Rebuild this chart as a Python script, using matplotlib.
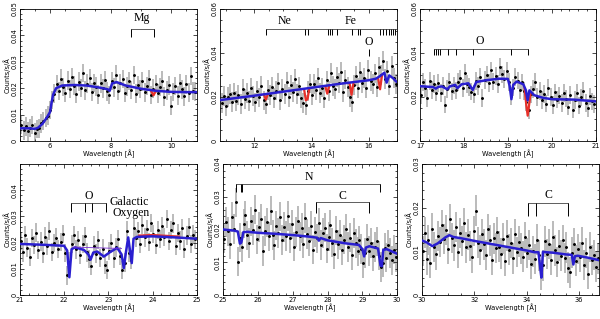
import numpy as np
import matplotlib
matplotlib.use("Agg")
import matplotlib.pyplot as plt
from matplotlib.ticker import MultipleLocator

# ---------------- data (counts in units of 1e-3 counts/s/A) ----------------
# panel 1 : 5 - 10.8 A
lam1 = np.linspace(5.05, 10.80, 80)
flux1 = [6.1, 4.0, 5.5, 3.6, 4.9, 6.0, 3.2, 4.5,
         4.8, 6.7, 7.5, 8.8, 9.6, 11.8, 15.5, 17.9,
         21.5, 19.0, 23.6, 20.4, 18.2,
         22.9, 19.6, 24.1, 21.0, 17.8, 22.5, 20.1,
         25.8, 19.2, 21.7, 23.9, 18.5, 22.0, 20.6,
         17.6, 21.8, 19.9, 23.0, 18.8, 17.4,
         22.7, 20.3, 25.1, 19.0, 21.9, 23.4,
         18.2, 20.7, 22.8, 19.3, 24.9, 17.9, 21.2,
         19.7, 22.6, 18.4, 20.9, 23.3, 17.5, 19.8,
         21.6, 18.0, 20.5, 22.9, 16.8, 19.2, 21.1,
         13.4, 18.6, 20.8, 17.2, 22.0, 19.5,
         16.9, 21.4, 18.3, 24.6, 19.0, 18.7]
model1_x = [5.0, 5.3, 5.5, 5.6, 5.75, 5.9, 6.0, 6.05, 6.1, 6.2, 6.4, 6.8, 7.2,
            7.6, 7.9, 7.97, 8.05, 8.2, 8.5, 9.0, 9.5, 10.0, 10.5, 10.85]
model1_y = [4.8, 4.8, 4.6, 5.0, 6.5, 9.0, 11.0, 14.5, 17.5, 20.0, 21.0, 21.2, 21.0,
            20.3, 19.6, 19.0, 21.8, 22.3, 21.0, 19.8, 19.0, 18.6, 18.5, 18.5]
red1_x = [9.33, 9.42, 9.50]
red1_y = [19.1, 17.3, 19.0]

# panel 2 : 10.8 - 17 A
lam2 = np.linspace(10.85, 16.95, 84)
flux2 = [17.2, 20.5, 15.8, 19.9, 21.4, 17.6, 22.0, 18.3,
         20.9, 16.9, 23.5, 19.2, 21.7, 18.0, 24.2, 20.3,
         17.5, 22.6, 19.8, 25.1, 18.4, 16.7, 23.3, 21.0,
         24.7, 19.5, 22.9, 26.3, 18.8, 23.6, 21.2, 27.0,
         20.1, 25.4, 22.3, 28.2, 21.5, 24.8, 19.6, 17.4,
         16.3, 22.8, 26.1, 20.7, 25.9, 23.0, 28.7, 21.9,
         24.3, 19.4, 27.5, 22.6, 30.8, 25.0, 23.7, 28.9,
         26.2, 31.5, 22.4, 27.9, 24.6, 19.8, 17.7, 25.3,
         29.6, 24.0, 31.2, 26.5, 28.8, 23.9, 32.4, 27.1,
         25.8, 30.7, 24.4, 33.6, 29.9, 36.2, 28.0, 31.8,
         25.2, 34.1, 28.6, 26.0]
model2_x = [10.8, 12.0, 13.0, 14.0, 15.0, 16.0, 16.25, 16.4, 16.55, 16.63,
            16.72, 16.85, 16.95, 17.0]
model2_y = [18.6, 20.6, 22.4, 24.2, 26.0, 27.6, 28.3, 29.5, 31.0, 26.5,
            29.8, 28.6, 27.2, 26.8]
red2 = [([12.33, 12.40, 12.47], [21.1, 18.8, 21.3]),
        ([13.74, 13.80, 13.86, 13.92], [23.4, 18.5, 19.0, 23.7]),
        ([14.48, 14.55, 14.62], [24.8, 21.5, 25.0]),
        ([15.33, 15.40, 15.47], [26.3, 21.0, 26.5]),
        ([16.33, 16.40, 16.47], [28.6, 23.5, 30.0])]

# panel 3 : 17 - 21 A
lam3 = np.linspace(17.02, 20.97, 80)
flux3 = [21.0, 26.7, 24.2, 19.5, 27.3, 23.1, 25.9, 22.0,
         26.4, 21.8, 24.9, 16.5, 23.7, 27.0, 22.5, 25.3,
         23.0, 26.9, 28.4, 24.1, 31.0, 26.0, 24.6, 22.4,
         21.3, 27.2, 25.0, 29.3, 19.4, 27.8, 30.2, 26.4,
         32.1, 27.0, 29.5, 25.8, 33.5, 30.3, 28.1, 31.7,
         26.8, 20.5, 24.3, 29.0, 27.4, 23.0, 26.6, 22.8,
         17.5, 14.0, 21.2, 23.6, 26.8, 20.0, 22.7, 18.6,
         21.4, 17.0, 24.3, 19.9, 16.4, 22.1, 18.8, 20.6,
         17.2, 21.9, 19.3, 15.6, 20.8, 14.3, 18.5, 21.7,
         16.1, 19.8, 22.6, 17.4, 15.0, 20.3, 18.0, 16.8]
model3_x = [17.0, 17.3, 17.36, 17.42, 17.5, 17.62, 17.68, 17.8, 17.85, 17.95,
            18.1, 18.2, 18.28, 18.5, 18.8, 19.0, 19.04, 19.08, 19.12, 19.2,
            19.35, 19.41, 19.45, 19.49, 19.6, 19.8, 20.0, 20.5, 21.0]
model3_y = [24.9, 24.5, 23.8, 24.6, 24.8, 23.5, 24.8, 25.5, 24.0, 25.8,
            26.2, 23.2, 26.8, 27.6, 28.3, 28.2, 25.0, 19.0, 25.5, 27.0,
            25.8, 23.0, 18.5, 23.0, 20.8, 19.6, 19.0, 18.8, 18.0]
red3 = [([19.38, 19.42, 19.45, 19.48, 19.52], [24.0, 16.0, 11.5, 16.0, 22.0])]

# panel 4 : 21 - 25 A
lam4 = np.linspace(21.02, 24.97, 80)
flux4 = [20.6, 16.3, 22.9, 18.1, 14.5, 21.7, 19.0, 23.8,
         17.2, 20.4, 15.9, 22.3, 18.7, 24.5, 16.4, 19.8,
         21.9, 17.5, 20.3, 23.2, 16.0, 7.5, 12.8, 19.6,
         22.8, 17.4, 20.9, 15.2, 19.5, 22.4, 16.3, 13.7,
         11.0, 18.9, 15.8, 21.0, 14.1, 17.7, 11.4, 9.6,
         16.8, 19.7, 14.0, 18.2, 21.2, 15.0, 9.5, 12.4,
         24.6, 16.1, 13.5, 25.7, 21.8, 24.4, 19.6, 26.8,
         22.0, 25.1, 20.3, 27.5, 23.4, 19.2, 24.7, 21.5,
         26.3, 22.2, 29.0, 20.5, 24.9, 27.3, 18.9, 23.6,
         20.8, 25.4, 17.6, 22.7, 26.0, 19.4, 23.1, 21.2]
model4_x = [21.0, 21.5, 22.0, 22.07, 22.12, 22.17, 22.25, 22.45, 22.55, 22.6,
            22.66, 22.75, 22.9, 23.05, 23.2, 23.3, 23.35, 23.4, 23.45, 23.49,
            23.53, 23.57, 23.65, 24.0, 24.5, 25.0]
model4_y = [19.5, 19.2, 18.8, 17.0, 6.8, 17.5, 18.2, 17.2, 15.5, 13.5,
            16.2, 16.6, 14.7, 16.5, 18.0, 15.5, 10.3, 16.5, 22.0, 17.0,
            12.2, 21.5, 22.2, 22.4, 22.0, 21.5]
thin4_x = [22.2, 22.6, 23.0, 23.3]
thin4_y = [18.3, 18.1, 17.9, 17.8]
red4 = [([23.7, 24.0, 24.3, 24.6], [22.7, 22.9, 22.6, 22.3])]

# panel 5 : 25 - 30 A
lam5 = np.linspace(25.03, 29.97, 90)
flux5 = [17.2, 22.3, 19.4, 15.6, 23.8, 20.1, 28.3, 10.2, 17.5, 14.6,
         21.8, 24.3, 18.2, 15.9, 22.5, 19.9, 26.1, 17.0, 20.8, 23.2,
         13.5, 19.6, 22.2, 17.9, 25.8, 18.3, 15.2, 21.2, 19.0, 23.9,
         16.8, 20.7, 18.0, 24.1, 17.4, 21.6, 14.8, 19.3, 22.6, 17.9,
         20.4, 15.7, 23.5, 18.6, 16.4, 21.0, 13.9, 19.2, 17.3, 22.0,
         15.3, 18.9, 20.6, 14.2, 17.8, 21.5, 16.0, 12.5, 19.7, 15.5,
         18.4, 13.6, 16.9, 20.3, 14.6, 17.5, 12.2, 19.0, 15.8, 13.3,
         16.7, 14.0, 9.8, 12.9, 17.2, 13.5, 15.9, 11.8, 14.7, 16.4,
         12.0, 8.5, 9.9, 14.5, 11.4, 15.3, 12.8, 10.6, 13.9, 11.5]
model5_x = [25.0, 25.3, 25.42, 25.48, 25.52, 25.58, 25.7, 26.0, 26.5, 27.0,
            27.5, 27.7, 27.75, 27.8, 28.0, 28.5, 28.9, 29.0, 29.05, 29.1,
            29.2, 29.45, 29.52, 29.56, 29.6, 29.7, 30.0]
model5_y = [20.0, 19.7, 19.4, 15.7, 16.0, 19.2, 19.3, 19.0, 18.7, 18.3,
            17.8, 17.5, 16.6, 17.4, 16.7, 15.8, 15.3, 14.0, 11.8, 14.5,
            14.9, 14.2, 9.0, 8.8, 13.8, 14.0, 12.6]

# panel 6 : 30 - 36.75 A
lam6 = np.linspace(30.03, 36.72, 90)
flux6 = [10.1, 14.3, 8.2, 12.6, 7.4, 15.2, 11.0, 9.3, 13.5, 12.1,
         16.0, 12.8, 14.9, 10.6, 17.3, 13.1, 11.4, 15.6, 9.8, 14.2,
         12.4, 16.5, 10.9, 13.8, 11.2, 8.6, 14.7, 19.3, 12.0, 10.3,
         13.9, 11.6, 9.2, 15.1, 12.5, 8.0, 13.0, 10.8, 14.4, 11.1,
         9.5, 12.9, 7.8, 13.6, 10.4, 11.9, 8.4, 14.0, 9.9, 12.2,
         10.7, 8.8, 13.2, 9.6, 11.5, 7.2, 10.0, 8.3, 12.7, 9.1,
         4.6, 6.8, 12.3, 9.4, 11.7, 8.1, 13.4, 10.2, 7.6, 11.3,
         9.0, 12.6, 8.5, 10.9, 6.3, 5.2, 9.7, 11.8, 7.9, 10.5,
         8.7, 12.0, 6.9, 9.6, 4.8, 11.0, 8.0, 9.2, 6.5, 8.4]
model6_x = [30.0, 30.2, 30.4, 30.6, 30.9, 31.05, 31.2, 31.5, 32.0, 33.0, 34.0,
            34.3, 34.45, 34.52, 34.56, 34.62, 34.75, 35.0, 35.5, 35.72, 35.78,
            35.84, 35.95, 36.3, 36.75]
model6_y = [12.5, 12.0, 11.2, 11.8, 13.2, 13.7, 13.3, 13.0, 12.4, 11.3, 10.2,
            9.8, 9.8, 6.0, 4.0, 9.9, 9.8, 9.7, 9.3, 9.2, 7.0,
            8.9, 9.0, 8.6, 8.0]

S = 1e-3
BLUE = '#2a1fd0'
RED = '#e8302a'
GREY = '#a8a8a8'
LFONT = dict(family='Liberation Serif', fontsize=8.5)

fig = plt.figure(figsize=(6.0, 3.19), dpi=100)


def panel(rect, lam, flux, err, mx, my, xlim, ylim, xmaj, xmin, ymaj, ymin,
          red=(), yticks=None):
    ax = fig.add_axes(rect)
    f = np.array(flux) * S
    ax.vlines(lam, f - err * S, f + err * S, color=GREY, lw=1.1, zorder=1)
    ax.plot(lam, f, 'o', color='black', ms=1.1, zorder=2)
    for rx, ry in red:
        ax.plot(rx, np.array(ry) * S, color=RED, lw=1.6, zorder=3)
    ax.plot(mx, np.array(my) * S, color=BLUE, lw=1.8, zorder=4)
    ax.set_xlim(*xlim)
    ax.set_ylim(*ylim)
    ax.xaxis.set_major_locator(MultipleLocator(xmaj))
    ax.xaxis.set_minor_locator(MultipleLocator(xmin))
    ax.yaxis.set_major_locator(MultipleLocator(ymaj))
    ax.yaxis.set_minor_locator(MultipleLocator(ymin))
    if yticks is not None:
        ax.set_yticks(yticks)
    ax.yaxis.set_major_formatter(plt.FuncFormatter(
        lambda v, p: '0' if abs(v) < 1e-9 else '%.2f' % v))
    ax.tick_params(which='both', direction='in', top=True, right=True,
                   labelsize=4.8, pad=1.5, width=0.5)
    ax.tick_params(which='major', length=3)
    ax.tick_params(which='minor', length=1.5)
    ax.tick_params(axis='y', labelrotation=90)
    for lab in ax.get_yticklabels():
        lab.set_va('center')
    for s in ax.spines.values():
        s.set_linewidth(0.6)
    ax.set_xlabel('Wavelength [Å]', fontsize=4.8, labelpad=0.5)
    ax.set_ylabel('Counts/s/Å', fontsize=4.8, labelpad=1)
    return ax


def bracket(ax, x0, x1, y, ticks, tlen, label=None, lx=None, ly=None,
            color='#444444'):
    ax.plot([x0, x1], [y, y], color=color, lw=0.6)
    ax.vlines(ticks, y - tlen, y, color='black', lw=0.7)
    if label:
        ax.text(lx, ly, label, ha='center', va='center', **LFONT)


# top row
ax1 = panel([0.033, 0.558, 0.295, 0.414], lam1, flux1, 3.5, model1_x, model1_y,
            (5.0, 10.85), (0, 0.05), 2, 0.5, 0.01, 0.002,
            red=[(red1_x, red1_y)])
bracket(ax1, 8.66, 9.42, 0.0424, [8.66, 9.42], 0.003, 'Mg', 9.04, 0.0465)

ax2 = panel([0.367, 0.558, 0.295, 0.414], lam2, flux2, 4.5, model2_x, model2_y,
            (10.8, 17.0), (0, 0.06), 2, 0.5, 0.02, 0.005, red=red2)
bracket(ax2, 12.40, 17.0, 0.0508,
        [12.40, 13.78, 13.87, 14.56, 14.64, 14.72, 14.88, 15.42, 15.62, 15.71,
         16.41, 16.5, 16.6, 16.7, 16.78, 16.86, 16.94], 0.0025, 'Ne', 13.05, 0.0545)
ax2.text(15.35, 0.0545, 'Fe', ha='center', va='center', **LFONT)
ax2.text(16.0, 0.0448, 'O', ha='center', va='center', **LFONT)
ax2.vlines([16.0], 0.0385, 0.042, color='black', lw=0.7)

ax3 = panel([0.700, 0.558, 0.293, 0.414], lam3, flux3, 4.0, model3_x, model3_y,
            (17.0, 21.0), (0, 0.06), 1, 0.2, 0.02, 0.005, red=red3)
bracket(ax3, 17.32, 19.45,  0.0418,
        [17.32, 17.36, 17.41, 17.45, 17.63, 17.81, 18.2, 19.08, 19.45], 0.0028,
        'O', 18.37, 0.0455)

# bottom row
ax4 = panel([0.033, 0.075, 0.295, 0.411], lam4, flux4, 3.5, model4_x, model4_y,
            (21.0, 25.0), (0, 0.05), 1, 0.2, 0.01, 0.002, red=red4,
            yticks=[0, 0.01, 0.02, 0.03, 0.04])
ax4.plot(thin4_x, np.array(thin4_y) * S, color='#7a2fd0', lw=0.6, zorder=4)
bracket(ax4, 22.15, 22.95, 0.0350, [22.15, 22.47, 22.64, 22.95], 0.0035,
        'O', 22.56, 0.0378)
ax4.text(23.02, 0.0354, 'Galactic', ha='left', va='center', **LFONT)
ax4.text(23.1, 0.0314, 'Oxygen', ha='left', va='center', **LFONT)

ax5 = panel([0.372, 0.075, 0.290, 0.411], lam5, flux5, 4.5, model5_x, model5_y,
            (25.0, 30.0), (0, 0.04), 1, 0.2, 0.01, 0.002)
bracket(ax5, 25.38, 29.50, 0.0340, [25.38, 25.52, 25.54, 29.50], 0.0027,
        'N', 27.45, 0.0360)
bracket(ax5, 27.66, 29.18, 0.0283, [27.66, 29.18], 0.0033, 'C', 28.42, 0.0302)

ax6 = panel([0.703, 0.075, 0.295, 0.411], lam6, flux6, 3.5, model6_x, model6_y,
            (30.0, 36.75), (0, 0.03), 2, 0.5, 0.01, 0.002)
bracket(ax6, 34.05, 35.57, 0.0211, [34.05, 34.37, 35.57], 0.003,
        'C', 34.82, 0.0230)

fig.savefig('out.png', dpi=100)
